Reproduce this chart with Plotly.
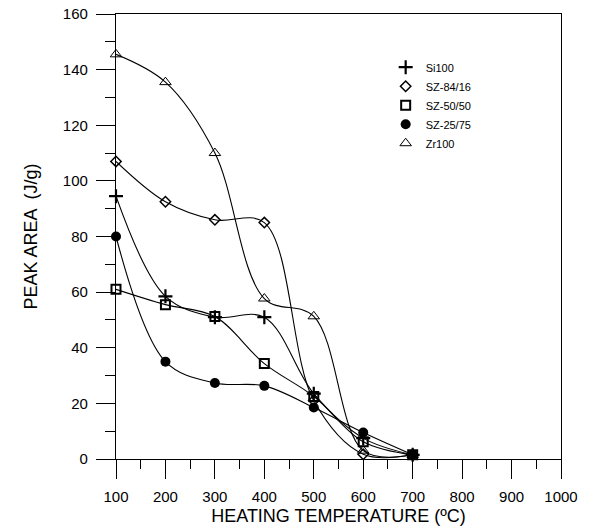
import plotly.graph_objects as go

# Heating temperature (ºC)
temperature = [100, 200, 300, 400, 500, 600, 700]

# Peak area (J/g) for each composition
si100 = [94.5, 58.5, 51.0, 51.0, 23.5, 7.5, 1.5]
sz_84_16 = [107.0, 92.5, 86.0, 85.0, 21.0, 1.7, 1.5]
sz_50_50 = [61.0, 55.5, 51.2, 34.3, 22.5, 6.2, 1.5]
sz_25_75 = [80.0, 35.0, 27.3, 26.3, 18.5, 9.5, 1.5]
zr100 = [145.5, 135.5, 110.0, 57.7, 51.3, 3.0, 1.5]

series = [
    ("Si100", si100, dict(symbol="cross-thin", size=10, line=dict(width=2.2, color="black"))),
    ("SZ-84/16", sz_84_16, dict(symbol="diamond-open", size=8, line=dict(width=1.5, color="black"))),
    ("SZ-50/50", sz_50_50, dict(symbol="square-open", size=9, line=dict(width=2, color="black"))),
    ("SZ-25/75", sz_25_75, dict(symbol="circle", size=10, color="black", line=dict(width=0))),
    ("Zr100", zr100, dict(symbol="triangle-up-open", size=10, line=dict(width=1, color="black"))),
]

fig = go.Figure()

# smooth connecting curves
for name, values, marker in series:
    fig.add_trace(go.Scatter(
        x=temperature, y=values, mode="lines",
        line=dict(color="black", width=1.1, shape="spline", smoothing=1.0),
        showlegend=False, hoverinfo="skip",
    ))

# data points (these carry the legend entries)
for name, values, marker in series:
    m = dict(marker)
    m.setdefault("color", "black")
    fig.add_trace(go.Scatter(
        x=temperature, y=values, mode="markers", name=name,
        marker=m, cliponaxis=False,
    ))

font_family = "Liberation Sans, Arial, sans-serif"

fig.update_layout(
    width=597, height=531,
    margin=dict(l=116, r=36, t=14, b=72, autoexpand=False),
    paper_bgcolor="white", plot_bgcolor="white",
    font=dict(family=font_family, color="black", size=15),
    showlegend=True,
    legend=dict(
        x=0.606, y=0.913, xanchor="left", yanchor="top",
        font=dict(size=11, family=font_family),
        bgcolor="rgba(0,0,0,0)", itemsizing="trace", itemwidth=30,
        tracegroupgap=0,
    ),
    xaxis=dict(
        range=[100, 1000], tickvals=[100, 200, 300, 400, 500, 600, 700, 800, 900, 1000],
        showgrid=False, zeroline=False, automargin=False,
        showline=True, linecolor="black", linewidth=1.2, mirror=True,
        ticks="outside", ticklen=19, tickwidth=1.2, tickcolor="black",
        minor=dict(ticks="outside", ticklen=9, dtick=50, tick0=0, tickwidth=1.2, tickcolor="black"),
        tickfont=dict(size=15), ticklabelstandoff=5,
        title=dict(text="HEATING TEMPERATURE (ºC)", font=dict(size=18), standoff=5),
    ),
    yaxis=dict(
        range=[0, 160], tickvals=[0, 20, 40, 60, 80, 100, 120, 140, 160],
        showgrid=False, zeroline=False, automargin=False,
        showline=True, linecolor="black", linewidth=1.2, mirror=True,
        ticks="outside", ticklen=19, tickwidth=1.2, tickcolor="black",
        minor=dict(ticks="outside", ticklen=10, dtick=10, tick0=0, tickwidth=1.2, tickcolor="black"),
        tickfont=dict(size=15), ticklabelstandoff=5,
        title=dict(text="PEAK AREA  (J/g)", font=dict(size=18), standoff=20),
    ),
)

fig.write_html("out.html")
